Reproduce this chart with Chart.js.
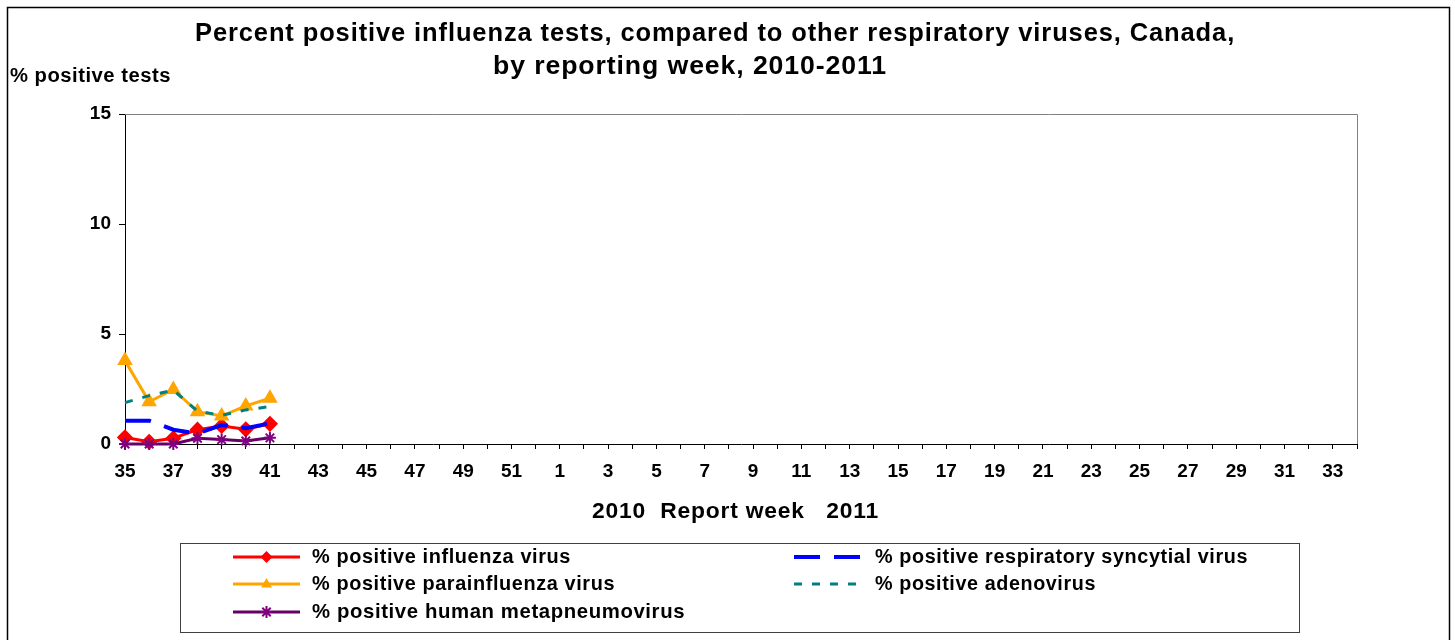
<!DOCTYPE html>
<html>
<head>
<meta charset="utf-8">
<script src="https://cdn.jsdelivr.net/npm/chart.js@4/dist/chart.umd.min.js"></script>
<style>
html,body{margin:0;padding:0;background:#fff;overflow:hidden}
#wrap{position:relative;width:1455px;height:640px}
</style>
</head>
<body>
<div id="wrap"><canvas id="c" width="1455" height="640"></canvas></div>
<script>
// ---- Data ----
const weeks = ['35','36','37','38','39','40','41','42','43','44','45','46','47','48','49','50','51','52',
  '1','2','3','4','5','6','7','8','9','10','11','12','13','14','15','16','17','18','19','20','21','22',
  '23','24','25','26','27','28','29','30','31','32','33','34'];
const influenza     = [0.30, 0.10, 0.26, 0.65, 0.82, 0.67, 0.92];
const rsv           = [1.06, 1.06, 0.65, 0.48, 0.86, 0.72, 0.94];
const parainfluenza = [3.79, 1.92, 2.48, 1.47, 1.27, 1.73, 2.08];
const adenovirus    = [1.88, 2.20, 2.45, 1.50, 1.30, 1.55, 1.70];
const hmpv          = [0.00, 0.00, 0.00, 0.26, 0.20, 0.14, 0.28];
const yTicks = [0, 5, 10, 15];
const titleLines = ['Percent positive influenza tests, compared to other respiratory viruses, Canada,', 'by reporting week, 2010-2011'];
const yTitle = '% positive tests';
const xTitle = '2010  Report week   2011';
const seriesNames = ['% positive influenza virus', '% positive respiratory syncytial virus',
  '% positive parainfluenza virus', '% positive adenovirus', '% positive human metapneumovirus'];

const FONT = '"Liberation Sans", Arial, Helvetica, sans-serif';

// draws text with a fixed small letter spacing, choosing the font size so that it spans `width`
function fitText(ctx, text, x, y, width, ls, maxSize) {
  ctx.letterSpacing = '0px';
  ctx.font = 'bold 20px ' + FONT;
  const w20 = ctx.measureText(text).width;
  let size = 20 * (width - ls * text.length) / w20;
  if (maxSize && size > maxSize) size = maxSize;
  ctx.font = 'bold ' + size.toFixed(2) + 'px ' + FONT;
  const w = ctx.measureText(text).width;
  const ls2 = (width - w) / text.length;
  ctx.letterSpacing = ls2.toFixed(2) + 'px';
  ctx.textAlign = 'left';
  ctx.textBaseline = 'alphabetic';
  ctx.fillStyle = '#000';
  ctx.fillText(text, x, y);
  ctx.letterSpacing = '0px';
}

function drawMarker(ctx, style, x, y, r, color) {
  ctx.save();
  ctx.fillStyle = color; ctx.strokeStyle = color; ctx.lineWidth = 2;
  ctx.beginPath();
  if (style === 'rectRot') {
    ctx.moveTo(x, y - r); ctx.lineTo(x + r, y); ctx.lineTo(x, y + r); ctx.lineTo(x - r, y); ctx.closePath(); ctx.fill();
  } else if (style === 'triangle') {
    ctx.moveTo(x, y - r); ctx.lineTo(x + r * 0.9, y + r * 0.6); ctx.lineTo(x - r * 0.9, y + r * 0.6); ctx.closePath(); ctx.fill();
  } else if (style === 'star') {
    ctx.moveTo(x, y - r); ctx.lineTo(x, y + r);
    ctx.moveTo(x - r, y); ctx.lineTo(x + r, y);
    const d = r * 0.7;
    ctx.moveTo(x - d, y - d); ctx.lineTo(x + d, y + d);
    ctx.moveTo(x - d, y + d); ctx.lineTo(x + d, y - d);
    ctx.stroke();
  }
  ctx.restore();
}

const decor = {
  id: 'decor',
  beforeDraw(chart) {
    const ctx = chart.ctx;
    ctx.save();
    ctx.fillStyle = '#fff';
    ctx.fillRect(0, 0, chart.width, chart.height);
    ctx.restore();
  },
  beforeDatasetsDraw(chart) {
    const ctx = chart.ctx, a = chart.chartArea;
    ctx.save();
    ctx.strokeStyle = '#808080'; ctx.lineWidth = 1;
    ctx.beginPath();
    ctx.moveTo(a.left, a.top + 0.5); ctx.lineTo(a.right + 0.5, a.top + 0.5); ctx.lineTo(a.right + 0.5, a.bottom);
    ctx.stroke();
    ctx.restore();
  },
  afterDraw(chart) {
    const ctx = chart.ctx;
    ctx.save();
    // outer border
    ctx.strokeStyle = '#000'; ctx.lineWidth = 1.5;
    ctx.strokeRect(7.5, 7.5, 1442, 650);
    // titles
    fitText(ctx, titleLines[0], 195, 41, 1040, 0.9);
    fitText(ctx, titleLines[1], 493, 74, 394, 0.9);
    fitText(ctx, yTitle, 10, 82, 161, 0.5);
    fitText(ctx, xTitle, 592, 518, 287, 0.8);
    // legend box
    ctx.strokeStyle = '#404040'; ctx.lineWidth = 1;
    ctx.strokeRect(180.5, 543.5, 1119, 89);
    const ds = chart.data.datasets;
    const slots = [
      {i: 0, x0: 233, x1: 300, tx: 312, cy: 557, w: 259},
      {i: 1, x0: 794, x1: 862, tx: 875, cy: 557, w: 373},
      {i: 2, x0: 233, x1: 300, tx: 312, cy: 584, w: 303},
      {i: 3, x0: 794, x1: 862, tx: 875, cy: 584, w: 221},
      {i: 4, x0: 233, x1: 300, tx: 312, cy: 612, w: 373}
    ];
    slots.forEach(s => {
      const d = ds[s.i];
      ctx.save();
      ctx.strokeStyle = d.borderColor; ctx.lineWidth = d.borderWidth;
      ctx.setLineDash(d.borderDash || []);
      ctx.beginPath(); ctx.moveTo(s.x0, s.cy); ctx.lineTo(s.x1, s.cy); ctx.stroke();
      ctx.restore();
      if (d.pointRadius > 0) drawMarker(ctx, d.pointStyle, (s.x0 + s.x1) / 2, s.cy, d.pointRadius, d.pointBackgroundColor);
      fitText(ctx, d.label, s.tx, s.cy + 6, s.w, 0.6);
    });
    ctx.restore();
  }
};

Chart.defaults.font.family = FONT;

new Chart(document.getElementById('c'), {
  type: 'line',
  data: {
    labels: weeks,
    datasets: [
      {label: seriesNames[0], data: influenza, borderColor: '#FF0000', backgroundColor: '#FF0000',
       pointBackgroundColor: '#FF0000', pointBorderColor: '#FF0000', borderWidth: 3, pointStyle: 'rectRot',
       pointRadius: 6, order: 5, clip: false, tension: 0},
      {label: seriesNames[1], data: rsv, borderColor: '#0000FF', backgroundColor: '#0000FF',
       pointBackgroundColor: '#0000FF', borderWidth: 4, borderDash: [26, 14], pointRadius: 0, order: 4, clip: false},
      {label: seriesNames[2], data: parainfluenza, borderColor: '#FFA500', backgroundColor: '#FFA500',
       pointBackgroundColor: '#FFA500', pointBorderColor: '#FFA500', borderWidth: 3, pointStyle: 'triangle',
       pointRadius: 6, order: 3, clip: false},
      {label: seriesNames[3], data: adenovirus, borderColor: '#008080', backgroundColor: '#008080',
       pointBackgroundColor: '#008080', borderWidth: 3, borderDash: [8, 10], pointRadius: 0, order: 2, clip: false},
      {label: seriesNames[4], data: hmpv, borderColor: '#660066', backgroundColor: '#800080',
       pointBackgroundColor: '#800080', pointBorderColor: '#800080', pointBorderWidth: 2, borderWidth: 3,
       pointStyle: 'star', pointRadius: 6, order: 1, clip: false}
    ]
  },
  options: {
    responsive: false,
    animation: false,
    devicePixelRatio: 1,
    layout: {padding: {left: 0, right: 98, top: 114, bottom: 126}},
    plugins: {legend: {display: false}, tooltip: {enabled: false}, title: {display: false}},
    scales: {
      x: {
        type: 'category',
        offset: false,
        grid: {drawOnChartArea: false, drawTicks: true, tickLength: 5, color: '#000'},
        border: {color: '#000', width: 1},
        ticks: {autoSkip: false, maxRotation: 0, minRotation: 0, padding: 11, color: '#000',
          font: {size: 19, weight: 'bold', family: FONT},
          callback: (v, i) => (i % 2 === 0 ? weeks[i] : '')},
        afterFit: s => { s.height = 70; }
      },
      y: {
        min: 0, max: 15,
        afterBuildTicks: s => { s.ticks = yTicks.map(v => ({value: v})); },
        grid: {drawOnChartArea: false, drawTicks: true, tickLength: 6, color: '#000'},
        border: {color: '#000', width: 1},
        ticks: {padding: 8, color: '#000', font: {size: 19, weight: 'bold', family: FONT}},
        afterFit: s => { s.width = 125; }
      }
    }
  },
  plugins: [decor]
});
</script>
</body>
</html>
